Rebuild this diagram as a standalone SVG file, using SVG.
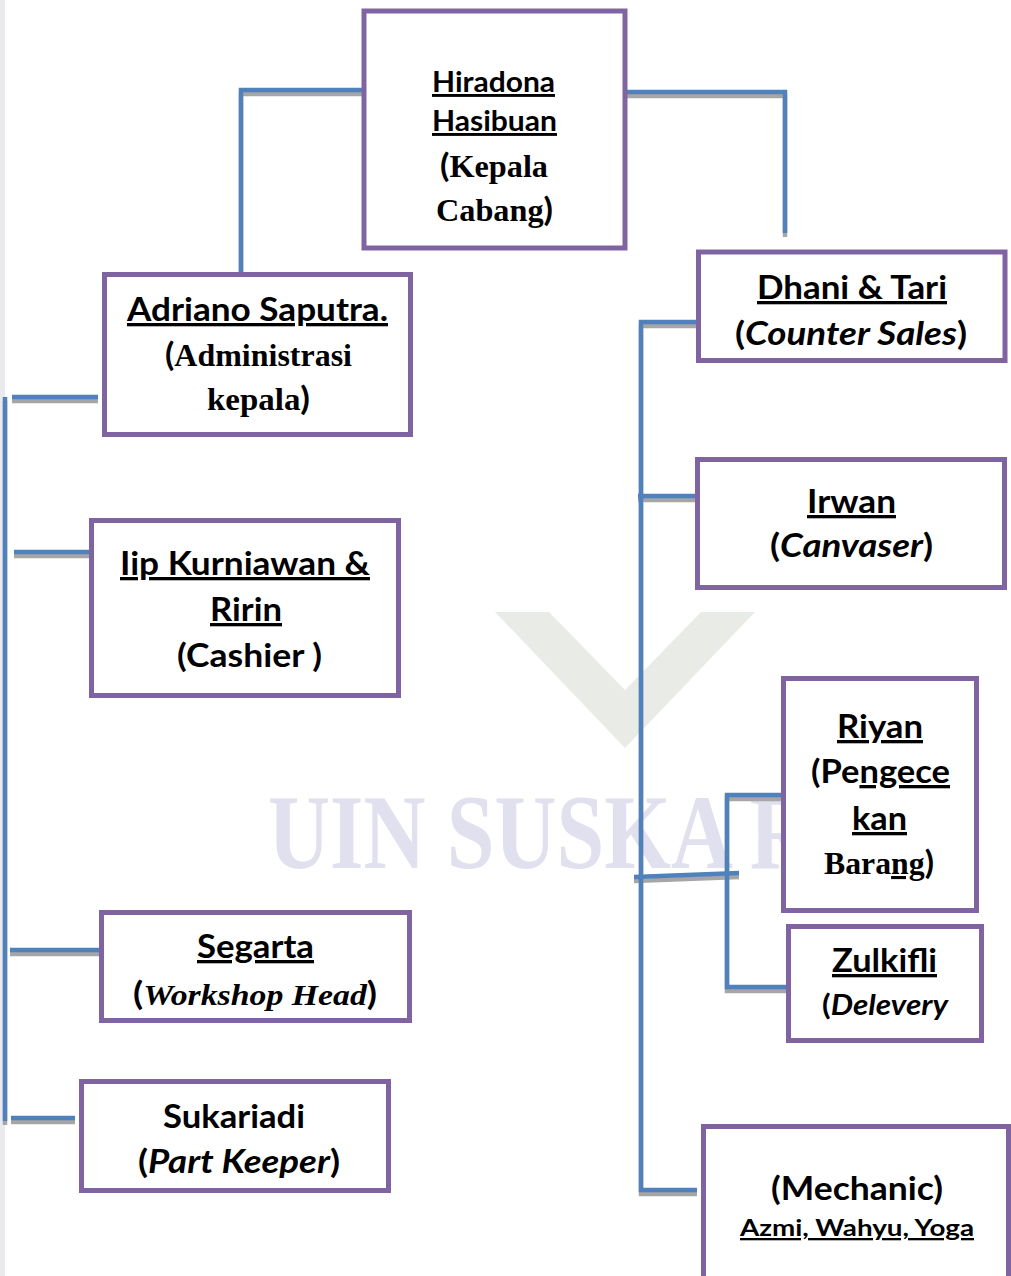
<svg xmlns="http://www.w3.org/2000/svg" xmlns:xlink="http://www.w3.org/1999/xlink" width="1011" height="1276" viewBox="0 0 1011 1276">
<style>
.box{fill:#fff;stroke:#8064a2;stroke-width:5}
.s{font-family:Lato,"Noto Sans","Liberation Sans",sans-serif;font-weight:bold;fill:#000}
.t{font-family:"Liberation Serif",serif;font-weight:bold;fill:#000}
.u{text-decoration:underline;text-decoration-thickness:3px;text-underline-offset:4px}
.i{font-style:italic}
.wm{font-family:"Liberation Serif",serif;font-weight:bold;fill:#e0e0ee}
.bg{fill:#e9ebe7}
.sh{fill:none;stroke:#a6a6a6;stroke-width:4.5}
.ln{fill:none;stroke:#4f81bd;stroke-width:4.5}
</style>
<defs>
<path id="c1" d="M362 90 H241 V272"/>
<path id="c2" d="M627 92 H785 V233"/>
<path id="c3" d="M5 397 V1121"/>
<path id="c4" d="M12 397 H98"/>
<path id="c5" d="M14 552 H92"/>
<path id="c6" d="M10 950 H100"/>
<path id="c7" d="M11 1118 H75"/>
<path id="c8" d="M705 322 H641 V1190 H697"/>
<path id="c9" d="M638 496 H697"/>
<path id="c10" d="M634 877 L739 873"/>
<path id="c11" d="M785 795 H727 V987 H786"/>
</defs>
<rect x="0" y="0" width="1011" height="1276" fill="#fff"/>
<g id="background">
<rect x="0" y="0" width="5" height="1276" fill="#e9e9ee"/>
<polygon class="bg" points="495,612 549,612 625,690 701,612 755,612 625,748"/>
<text class="wm" font-size="106" transform="translate(268,868) scale(0.81,1)">UIN SUSKA R</text>
</g>
<g id="connectors">
<g class="sh" transform="translate(0,4)">
<use xlink:href="#c1"/><use xlink:href="#c2"/><use xlink:href="#c3"/><use xlink:href="#c4"/><use xlink:href="#c5"/><use xlink:href="#c6"/><use xlink:href="#c7"/><use xlink:href="#c8"/><use xlink:href="#c9"/><use xlink:href="#c10"/><use xlink:href="#c11"/>
</g>
<g class="ln">
<use xlink:href="#c1"/><use xlink:href="#c2"/><use xlink:href="#c3"/><use xlink:href="#c4"/><use xlink:href="#c5"/><use xlink:href="#c6"/><use xlink:href="#c7"/><use xlink:href="#c8"/><use xlink:href="#c9"/><use xlink:href="#c10"/><use xlink:href="#c11"/>
</g>
</g>
<g id="n-hiradona">
<rect class="box" x="364" y="11" width="261" height="237"/>
<text class="s u" x="432" y="92" font-size="29" textLength="123" lengthAdjust="spacingAndGlyphs">Hiradona</text>
<text class="s u" x="432" y="131" font-size="29" textLength="125" lengthAdjust="spacingAndGlyphs">Hasibuan</text>
<text x="440" y="177" textLength="108" lengthAdjust="spacingAndGlyphs"><tspan class="s" font-size="33">(</tspan><tspan class="t" font-size="31">Kepala</tspan></text>
<text x="436" y="221" textLength="117" lengthAdjust="spacingAndGlyphs"><tspan class="t" font-size="31">Cabang</tspan><tspan class="s" font-size="33">)</tspan></text>
</g>
<g id="n-adriano">
<rect class="box" x="104.5" y="274.5" width="306" height="160"/>
<text class="s u" x="127" y="321" font-size="33" textLength="261" lengthAdjust="spacingAndGlyphs">Adriano Saputra.</text>
<text x="165" y="366" textLength="187" lengthAdjust="spacingAndGlyphs"><tspan class="s" font-size="33">(</tspan><tspan class="t" font-size="31">Administrasi</tspan></text>
<text x="207" y="410" textLength="103" lengthAdjust="spacingAndGlyphs"><tspan class="t" font-size="31">kepala</tspan><tspan class="s" font-size="33">)</tspan></text>
</g>
<g id="n-iip">
<rect class="box" x="91.5" y="520.5" width="307" height="175"/>
<text class="s u" x="120" y="575" font-size="33" textLength="250" lengthAdjust="spacingAndGlyphs">Iip Kurniawan &amp;</text>
<text class="s u" x="210" y="621" font-size="33" textLength="72" lengthAdjust="spacingAndGlyphs">Ririn</text>
<text class="s" x="177" y="667" font-size="33" textLength="145" lengthAdjust="spacingAndGlyphs">(Cashier )</text>
</g>
<g id="n-segarta">
<rect class="box" x="101.5" y="912.5" width="308" height="108"/>
<text class="s u" x="197" y="958" font-size="33" textLength="117" lengthAdjust="spacingAndGlyphs">Segarta</text>
<text x="133" y="1005" textLength="244" lengthAdjust="spacingAndGlyphs"><tspan class="s" font-size="33">(</tspan><tspan class="t i" font-size="30">Workshop  Head</tspan><tspan class="s" font-size="33">)</tspan></text>
</g>
<g id="n-sukariadi">
<rect class="box" x="81.5" y="1081.5" width="307" height="109"/>
<text class="s" x="163" y="1128" font-size="33" textLength="142" lengthAdjust="spacingAndGlyphs">Sukariadi</text>
<text class="s" x="138" y="1173" font-size="33" textLength="202" lengthAdjust="spacingAndGlyphs">(<tspan class="i">Part Keeper</tspan>)</text>
</g>
<g id="n-dhani">
<rect class="box" x="698.5" y="252" width="306.5" height="108.5"/>
<text class="s u" x="757" y="299" font-size="33" textLength="190" lengthAdjust="spacingAndGlyphs">Dhani &amp; Tari</text>
<text class="s" x="735" y="345" font-size="33" textLength="232" lengthAdjust="spacingAndGlyphs">(<tspan class="i">Counter Sales</tspan>)</text>
</g>
<g id="n-irwan">
<rect class="box" x="697.5" y="459.5" width="307" height="128"/>
<text class="s u" x="807" y="513" font-size="33" textLength="89" lengthAdjust="spacingAndGlyphs">Irwan</text>
<text class="s" x="770" y="557" font-size="33" textLength="163" lengthAdjust="spacingAndGlyphs">(<tspan class="i">Canvaser</tspan>)</text>
</g>
<g id="n-riyan">
<rect class="box" x="783.5" y="678.5" width="193" height="232"/>
<text class="s u" x="837" y="738" font-size="33" textLength="86" lengthAdjust="spacingAndGlyphs">Riyan</text>
<text class="s" x="811" y="783" font-size="33" textLength="139" lengthAdjust="spacingAndGlyphs">(Pe<tspan class="u">ngece</tspan></text>
<text class="s u" x="852" y="830" font-size="33" textLength="55" lengthAdjust="spacingAndGlyphs">kan</text>
<text x="824" y="874" textLength="110" lengthAdjust="spacingAndGlyphs"><tspan class="t" font-size="31">Bara</tspan><tspan class="t u" font-size="31">ng</tspan><tspan class="s" font-size="33">)</tspan></text>
</g>
<g id="n-zulkifli">
<rect class="box" x="788.5" y="926.5" width="193" height="114"/>
<text class="s u" x="832" y="972" font-size="33" textLength="105" lengthAdjust="spacingAndGlyphs">Zulkifli</text>
<text class="s" x="822" y="1015" font-size="28" textLength="126" lengthAdjust="spacingAndGlyphs">(<tspan class="i">Delevery</tspan></text>
</g>
<g id="n-mechanic">
<rect class="box" x="703.5" y="1126.5" width="305" height="200"/>
<text class="s" x="771" y="1200" font-size="33" textLength="172" lengthAdjust="spacingAndGlyphs">(Mechanic)</text>
<text class="s u" x="740" y="1236" font-size="23" textLength="234" lengthAdjust="spacingAndGlyphs">Azmi, Wahyu, Yoga</text>
</g>
</svg>
